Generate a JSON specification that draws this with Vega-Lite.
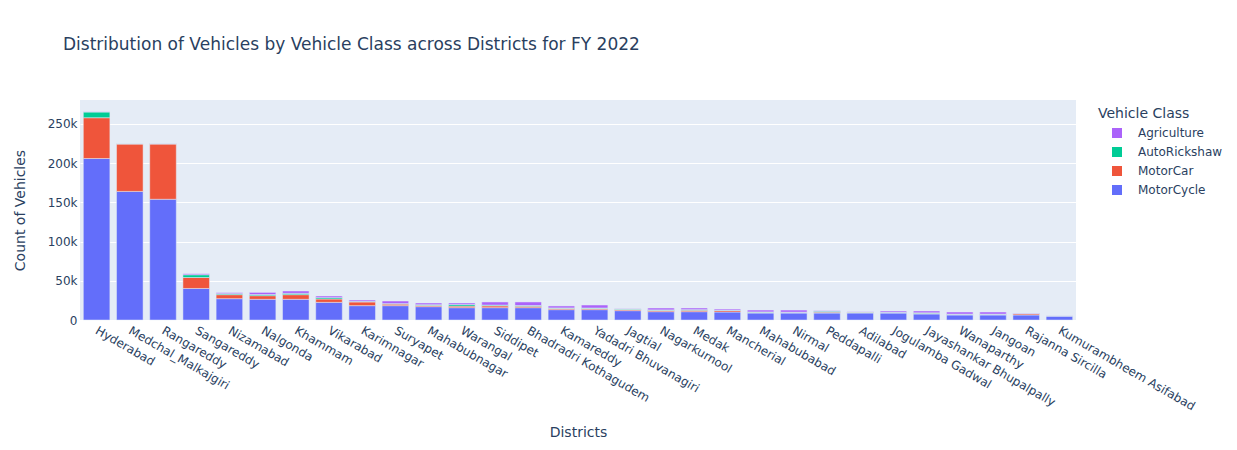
{
  "$schema": "https://vega.github.io/schema/vega-lite/v6.json",
  "width": 996,
  "height": 220,
  "autosize": {"type": "none"},
  "padding": {"left": 80, "top": 100, "right": 161, "bottom": 130},
  "background": "white",
  "config": {
    "font": "DejaVu Sans",
    "view": {"fill": "#E5ECF6", "stroke": null}
  },
  "title": {
    "text": "Distribution of Vehicles by Vehicle Class across Districts for FY 2022",
    "anchor": "start",
    "frame": "group",
    "dx": -17,
    "offset": 46,
    "fontSize": 17,
    "fontWeight": "normal",
    "color": "#2a3f5f",
    "font": "DejaVu Sans"
  },
  "data": {
    "values": [
      {"District": "Hyderabad", "MotorCycle": 206000, "MotorCar": 52000, "AutoRickshaw": 7300, "Agriculture": 300},
      {"District": "Medchal_Malkajgiri", "MotorCycle": 164000, "MotorCar": 60500, "AutoRickshaw": 300, "Agriculture": 100},
      {"District": "Rangareddy", "MotorCycle": 154000, "MotorCar": 70500, "AutoRickshaw": 300, "Agriculture": 200},
      {"District": "Sangareddy", "MotorCycle": 40200, "MotorCar": 14000, "AutoRickshaw": 3500, "Agriculture": 1300},
      {"District": "Nizamabad", "MotorCycle": 27200, "MotorCar": 5100, "AutoRickshaw": 1300, "Agriculture": 1300},
      {"District": "Nalgonda", "MotorCycle": 26400, "MotorCar": 4600, "AutoRickshaw": 1500, "Agriculture": 2700},
      {"District": "Khammam", "MotorCycle": 26400, "MotorCar": 5900, "AutoRickshaw": 1700, "Agriculture": 3000},
      {"District": "Vikarabad", "MotorCycle": 22500, "MotorCar": 4300, "AutoRickshaw": 1700, "Agriculture": 2100},
      {"District": "Karimnagar", "MotorCycle": 18300, "MotorCar": 4700, "AutoRickshaw": 800, "Agriculture": 1700},
      {"District": "Suryapet", "MotorCycle": 18300, "MotorCar": 2000, "AutoRickshaw": 600, "Agriculture": 3300},
      {"District": "Mahabubnagar", "MotorCycle": 17000, "MotorCar": 1600, "AutoRickshaw": 900, "Agriculture": 2200},
      {"District": "Warangal", "MotorCycle": 15700, "MotorCar": 2000, "AutoRickshaw": 2000, "Agriculture": 2000},
      {"District": "Siddipet", "MotorCycle": 15700, "MotorCar": 2300, "AutoRickshaw": 1000, "Agriculture": 4000},
      {"District": "Bhadradri Kothagudem", "MotorCycle": 15700, "MotorCar": 1800, "AutoRickshaw": 1000, "Agriculture": 4500},
      {"District": "Kamareddy", "MotorCycle": 13200, "MotorCar": 1600, "AutoRickshaw": 600, "Agriculture": 2500},
      {"District": "Yadadri Bhuvanagiri", "MotorCycle": 13200, "MotorCar": 1400, "AutoRickshaw": 700, "Agriculture": 3800},
      {"District": "Jagtial", "MotorCycle": 11900, "MotorCar": 1400, "AutoRickshaw": 800, "Agriculture": 400},
      {"District": "Nagarkurnool", "MotorCycle": 10600, "MotorCar": 1600, "AutoRickshaw": 700, "Agriculture": 2400},
      {"District": "Medak", "MotorCycle": 10600, "MotorCar": 1800, "AutoRickshaw": 800, "Agriculture": 2100},
      {"District": "Mancherial", "MotorCycle": 10200, "MotorCar": 1800, "AutoRickshaw": 600, "Agriculture": 1400},
      {"District": "Mahabubabad", "MotorCycle": 8900, "MotorCar": 800, "AutoRickshaw": 600, "Agriculture": 2400},
      {"District": "Nirmal", "MotorCycle": 8900, "MotorCar": 600, "AutoRickshaw": 500, "Agriculture": 2700},
      {"District": "Peddapalli", "MotorCycle": 8900, "MotorCar": 1100, "AutoRickshaw": 1200, "Agriculture": 700},
      {"District": "Adilabad", "MotorCycle": 8900, "MotorCar": 1000, "AutoRickshaw": 300, "Agriculture": 400},
      {"District": "Jogulamba Gadwal", "MotorCycle": 8900, "MotorCar": 500, "AutoRickshaw": 500, "Agriculture": 1600},
      {"District": "Jayashankar Bhupalpally", "MotorCycle": 7700, "MotorCar": 700, "AutoRickshaw": 800, "Agriculture": 2300},
      {"District": "Wanaparthy", "MotorCycle": 6400, "MotorCar": 600, "AutoRickshaw": 500, "Agriculture": 2700},
      {"District": "Jangoan", "MotorCycle": 6400, "MotorCar": 600, "AutoRickshaw": 500, "Agriculture": 2700},
      {"District": "Rajanna Sircilla", "MotorCycle": 6400, "MotorCar": 1500, "AutoRickshaw": 400, "Agriculture": 600},
      {"District": "Kumurambheem Asifabad", "MotorCycle": 5100, "MotorCar": 200, "AutoRickshaw": 100, "Agriculture": 100}
    ]
  },
  "transform": [
    {"fold": ["MotorCycle", "MotorCar", "AutoRickshaw", "Agriculture"], "as": ["Vehicle Class", "Count"]}
  ],
  "mark": {"type": "bar", "stroke": "#E5ECF6", "strokeWidth": 0.5},
  "encoding": {
    "x": {
      "field": "District",
      "type": "nominal",
      "sort": null,
      "scale": {"paddingInner": 0.2, "paddingOuter": 0.1},
      "axis": {
        "title": "Districts",
        "titleFontSize": 14,
        "titleFontWeight": "normal",
        "titleColor": "#2a3f5f",
        "titlePadding": 14,
        "labelAngle": 30,
        "labelAlign": "left",
        "labelBaseline": "middle",
        "labelFontSize": 12,
        "labelColor": "#2a3f5f",
        "labelPadding": 9,
        "ticks": false,
        "domain": false,
        "labelOverlap": false
      }
    },
    "y": {
      "field": "Count",
      "type": "quantitative",
      "stack": "zero",
      "scale": {"domain": [0, 280600], "nice": false},
      "axis": {
        "title": "Count of Vehicles",
        "titleFontSize": 14,
        "titleFontWeight": "normal",
        "titleColor": "#2a3f5f",
        "titlePadding": 20,
        "values": [0, 50000, 100000, 150000, 200000, 250000],
        "labelExpr": "datum.value == 0 ? '0' : format(datum.value / 1000, 'd') + 'k'",
        "labelFontSize": 12,
        "labelColor": "#2a3f5f",
        "labelPadding": 3,
        "ticks": false,
        "domain": false,
        "gridColor": "white",
        "gridWidth": 1
      }
    },
    "color": {
      "field": "Vehicle Class",
      "type": "nominal",
      "scale": {
        "domain": ["Agriculture", "AutoRickshaw", "MotorCar", "MotorCycle"],
        "range": ["#AB63FA", "#00CC96", "#EF553B", "#636EFA"]
      },
      "legend": {
        "orient": "none",
        "legendX": 1018,
        "legendY": 7,
        "title": "Vehicle Class",
        "titleFontSize": 14,
        "titleFontWeight": "normal",
        "titleColor": "#2a3f5f",
        "titlePadding": 6,
        "labelFontSize": 12,
        "labelColor": "#2a3f5f",
        "symbolType": "square",
        "symbolSize": 100,
        "symbolStrokeWidth": 0,
        "symbolOffset": 13,
        "labelOffset": 15,
        "rowPadding": 7,
        "padding": 0
      }
    },
    "order": {"field": "Vehicle Class", "sort": "descending"}
  }
}
